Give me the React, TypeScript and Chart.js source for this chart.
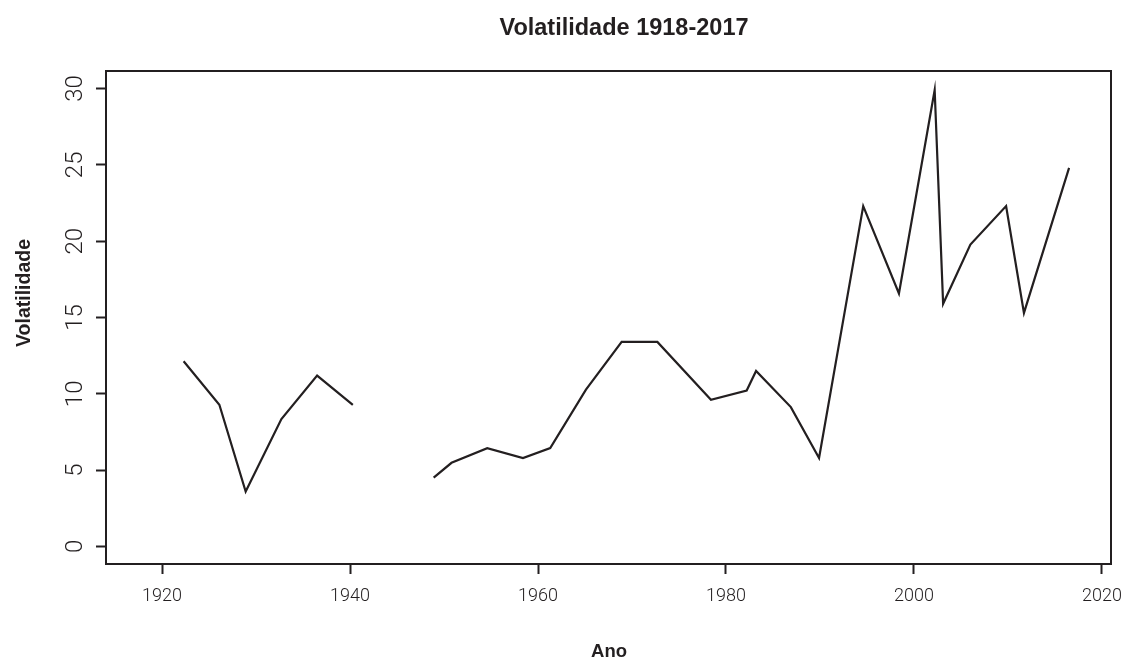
import React, { useEffect, useRef } from "react";
import { Chart, registerables } from "chart.js";

Chart.register(...registerables);

const years: number[] = [
  1922.3, 1926.1, 1928.9, 1932.7, 1936.5, 1940.3, 1944.6, 1948.9, 1950.8, 1954.6,
  1958.4, 1961.3, 1965.1, 1968.9, 1972.7, 1978.4, 1982.2, 1983.2, 1986.9, 1989.9,
  1994.6, 1998.4, 2002.2, 2003.1, 2006.0, 2009.8, 2011.7, 2016.5,
];
const volatility: (number | null)[] = [
  12.13, 9.28, 3.6, 8.35, 11.19, 9.28, null, 4.51, 5.48, 6.44,
  5.79, 6.44, 10.27, 13.4, 13.4, 9.61, 10.22, 11.5, 9.13, 5.8,
  22.3, 16.57, 29.9, 15.9, 19.78, 22.3, 15.3, 24.8,
];
const xTicks: number[] = [1920, 1940, 1960, 1980, 2000, 2020];
const yTicks: number[] = [0, 5, 10, 15, 20, 25, 30];

const titleText = "Volatilidade 1918-2017";
const xTitle = "Ano";
const yTitle = "Volatilidade";

const INK = "#231f20";
const TICK_FONT = "Roboto, 'Liberation Sans', sans-serif";
const BOLD_FONT = "'Liberation Sans', Arial, sans-serif";

const boxAndText = {
  id: "boxAndText",
  afterDraw(chart: any) {
    const { ctx, chartArea } = chart;
    ctx.save();
    ctx.strokeStyle = INK;
    ctx.lineWidth = 2;
    ctx.strokeRect(chartArea.left, chartArea.top, chartArea.right - chartArea.left, chartArea.bottom - chartArea.top);
    ctx.fillStyle = INK;
    ctx.textBaseline = "alphabetic";
    ctx.textAlign = "center";
    ctx.font = `bold 23.5px ${BOLD_FONT}`;
    ctx.fillText(titleText, 624, 35);
    ctx.font = `bold 18.5px ${BOLD_FONT}`;
    ctx.fillText(xTitle, 609, 657);
    ctx.translate(29.5, 293);
    ctx.rotate(-Math.PI / 2);
    ctx.font = `bold 19.5px ${BOLD_FONT}`;
    ctx.fillText(yTitle, 0, 0);
    ctx.restore();
  },
};

export default function App() {
  const ref = useRef<HTMLCanvasElement | null>(null);
  useEffect(() => {
    if (!ref.current) return;
    const points = years.map((x, i) => ({ x, y: volatility[i] }));
    const chart = new Chart(ref.current, {
      type: "line",
      data: {
        datasets: [
          {
            data: points as any,
            borderColor: INK,
            borderWidth: 2.2,
            pointRadius: 0,
            tension: 0,
            spanGaps: false,
            fill: false,
          },
        ],
      },
      options: {
        animation: false,
        responsive: false,
        events: [],
        layout: { padding: { left: 0, top: 71, right: 10, bottom: 0 } },
        plugins: { legend: { display: false }, tooltip: { enabled: false }, title: { display: false } },
        scales: {
          x: {
            type: "linear",
            min: 1914.04,
            max: 2020.96,
            afterFit: (s: any) => {
              s.height = 659 - 564;
              s.paddingLeft = 0;
              s.paddingRight = 0;
            },
            afterBuildTicks: (s: any) => { s.ticks = xTicks.map((v) => ({ value: v })); },
            grid: { display: true, drawOnChartArea: false, drawTicks: true, tickLength: 10, tickWidth: 2, tickColor: INK },
            border: { display: true, width: 2, color: INK },
            ticks: {
              color: INK,
              font: { family: TICK_FONT, size: 18, weight: "300" },
              padding: 12,
              maxRotation: 0,
              minRotation: 0,
              autoSkip: false,
              callback: (v: any) => String(v),
            },
          },
          y: {
            type: "linear",
            min: -1.15,
            max: 31.15,
            afterFit: (s: any) => {
              s.width = 106;
              s.paddingTop = 0;
              s.paddingBottom = 0;
            },
            afterBuildTicks: (s: any) => { s.ticks = yTicks.map((v) => ({ value: v })); },
            grid: { display: true, drawOnChartArea: false, drawTicks: true, tickLength: 10, tickWidth: 2, tickColor: INK },
            border: { display: true, width: 2, color: INK },
            ticks: {
              color: INK,
              font: { family: TICK_FONT, size: 24, weight: "300" },
              padding: 7,
              minRotation: 90,
              maxRotation: 90,
              crossAlign: "center",
              autoSkip: false,
              callback: (v: any) => String(v),
            },
          },
        },
      },
      plugins: [boxAndText],
    });
    return () => chart.destroy();
  }, []);
  return (
    <canvas
      ref={ref}
      width={1121}
      height={659}
      style={{ position: "fixed", left: 0, top: 0, width: 1121, height: 659, display: "block", background: "#fff" }}
    />
  );
}
